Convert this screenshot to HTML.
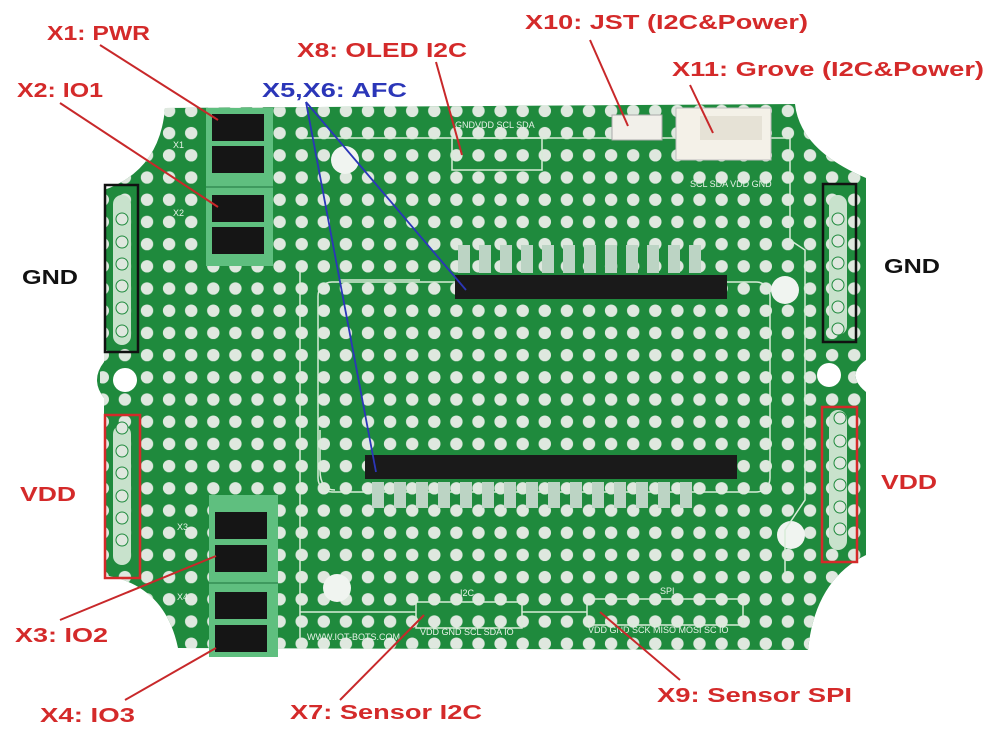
<!DOCTYPE html>
<html><head><meta charset="utf-8"><style>
html,body{margin:0;padding:0;background:#fff;}
svg{display:block;}
.lb{font-family:"Liberation Sans",sans-serif;font-weight:bold;font-size:20px;fill:#d42a2a;}
.bl{fill:#2b36b8;}
.bk{fill:#111;}
.sk{font-family:"Liberation Sans",sans-serif;font-size:9px;fill:#e8f2e8;}
</style></head><body>
<svg width="1000" height="750" viewBox="0 0 1000 750" xmlns="http://www.w3.org/2000/svg">
<defs>
<pattern id="dots" x="136" y="122" width="22.1" height="22.2" patternUnits="userSpaceOnUse">
<circle cx="11" cy="11.1" r="6.2" fill="#dfe8df"/>
</pattern>
<clipPath id="bc"><path id="bp" d="M165,108 L795,104 Q800,150 866,178 L866,360 Q845,375 866,392 L866,555 Q815,580 808,650 L178,648 Q165,585 104,575 L104,398 Q90,380 104,362 L104,190 Q160,170 165,108 Z"/></clipPath>
</defs>
<rect width="1000" height="750" fill="#fff"/>
<path d="M165,108 L795,104 Q800,150 866,178 L866,360 Q845,375 866,392 L866,555 Q815,580 808,650 L178,648 Q165,585 104,575 L104,398 Q90,380 104,362 L104,190 Q160,170 165,108 Z" fill="#1f8a3d"/>
<g clip-path="url(#bc)">
<rect x="100" y="100" width="780" height="560" fill="url(#dots)"/>
</g>
<!-- mounting holes -->
<circle cx="125" cy="380" r="12" fill="#fff"/>
<circle cx="829" cy="375" r="12" fill="#fff"/>
<circle cx="345" cy="160" r="14" fill="#f0f4f0"/>
<circle cx="785" cy="290" r="14" fill="#f0f4f0"/>
<circle cx="337" cy="588" r="14" fill="#f0f4f0"/>
<circle cx="791" cy="535" r="14" fill="#f0f4f0"/>
<!-- silkscreen lines -->
<g fill="none" stroke="#d8ecd8" stroke-width="1.5">
<rect x="318" y="282" width="452" height="210" rx="14"/>
<line x1="300" y1="265" x2="300" y2="640"/>
<line x1="300" y1="138" x2="790" y2="138"/>
<line x1="790" y1="130" x2="790" y2="240"/>
<path d="M790,240 L805,250 L805,500 L785,530 L785,575"/>
<rect x="452" y="138" width="90" height="32"/>
<rect x="416" y="602" width="106" height="26"/>
<rect x="587" y="599" width="156" height="26"/>
<line x1="300" y1="612" x2="416" y2="612"/>
<line x1="522" y1="612" x2="587" y2="612"/>
<path d="M320,430 L320,470 Q320,490 335,490"/>
<line x1="340" y1="280" x2="420" y2="280"/>
</g>
<!-- pad columns left/right -->
<rect x="113" y="195" width="18" height="150" rx="9" fill="#c8e2cc"/>
<rect x="829" y="195" width="18" height="140" rx="9" fill="#c8e2cc"/>
<rect x="113" y="425" width="18" height="140" rx="9" fill="#c8e2cc"/>
<rect x="829" y="410" width="18" height="140" rx="9" fill="#c8e2cc"/>
<g fill="#dfe8df" stroke="#1f8a3d" stroke-width="1">
<circle cx="122" cy="219" r="6"/><circle cx="122" cy="242" r="6"/><circle cx="122" cy="264" r="6"/><circle cx="122" cy="286" r="6"/><circle cx="122" cy="308" r="6"/><circle cx="122" cy="331" r="6"/>
<circle cx="838" cy="219" r="6"/><circle cx="838" cy="241" r="6"/><circle cx="838" cy="263" r="6"/><circle cx="838" cy="285" r="6"/><circle cx="838" cy="307" r="6"/><circle cx="838" cy="329" r="6"/>
<circle cx="122" cy="428" r="6"/><circle cx="122" cy="451" r="6"/><circle cx="122" cy="473" r="6"/><circle cx="122" cy="496" r="6"/><circle cx="122" cy="518" r="6"/><circle cx="122" cy="540" r="6"/>
<circle cx="840" cy="418" r="6"/><circle cx="840" cy="441" r="6"/><circle cx="840" cy="463" r="6"/><circle cx="840" cy="485" r="6"/><circle cx="840" cy="507" r="6"/><circle cx="840" cy="529" r="6"/>
</g>
<!-- boxes -->
<rect x="105" y="185" width="33" height="167" fill="none" stroke="#111" stroke-width="2.5"/>
<rect x="823" y="184" width="33" height="158" fill="none" stroke="#111" stroke-width="2.5"/>
<rect x="105" y="415" width="35" height="163" fill="none" stroke="#d42a2a" stroke-width="2.5"/>
<rect x="822" y="407" width="35" height="155" fill="none" stroke="#d42a2a" stroke-width="2.5"/>
<!-- terminal blocks -->
<g>
<rect x="206" y="108" width="67" height="158" fill="#5fbf7f"/>
<rect x="212" y="114" width="52" height="27" fill="#151515"/><rect x="212" y="146" width="52" height="27" fill="#151515"/>
<rect x="212" y="195" width="52" height="27" fill="#151515"/><rect x="212" y="227" width="52" height="27" fill="#151515"/>
<line x1="206" y1="187" x2="273" y2="187" stroke="#3e9a5e" stroke-width="2"/>
<rect x="209" y="495" width="69" height="162" fill="#5fbf7f"/>
<rect x="215" y="512" width="52" height="27" fill="#151515"/><rect x="215" y="545" width="52" height="27" fill="#151515"/>
<rect x="215" y="592" width="52" height="27" fill="#151515"/><rect x="215" y="625" width="52" height="27" fill="#151515"/>
<line x1="209" y1="583" x2="278" y2="583" stroke="#3e9a5e" stroke-width="2"/>
</g>
<!-- headers -->
<rect x="455" y="275" width="272" height="24" fill="#1a1a1a"/>
<rect x="365" y="455" width="372" height="24" fill="#1a1a1a"/>
<g fill="#bcd4c4">
<rect x="458" y="245" width="12" height="28"/><rect x="479" y="245" width="12" height="28"/><rect x="500" y="245" width="12" height="28"/><rect x="521" y="245" width="12" height="28"/><rect x="542" y="245" width="12" height="28"/><rect x="563" y="245" width="12" height="28"/><rect x="584" y="245" width="12" height="28"/><rect x="605" y="245" width="12" height="28"/><rect x="626" y="245" width="12" height="28"/><rect x="647" y="245" width="12" height="28"/><rect x="668" y="245" width="12" height="28"/><rect x="689" y="245" width="12" height="28"/>
<rect x="372" y="482" width="12" height="26"/><rect x="394" y="482" width="12" height="26"/><rect x="416" y="482" width="12" height="26"/><rect x="438" y="482" width="12" height="26"/><rect x="460" y="482" width="12" height="26"/><rect x="482" y="482" width="12" height="26"/><rect x="504" y="482" width="12" height="26"/><rect x="526" y="482" width="12" height="26"/><rect x="548" y="482" width="12" height="26"/><rect x="570" y="482" width="12" height="26"/><rect x="592" y="482" width="12" height="26"/><rect x="614" y="482" width="12" height="26"/><rect x="636" y="482" width="12" height="26"/><rect x="658" y="482" width="12" height="26"/><rect x="680" y="482" width="12" height="26"/>
</g>
<!-- connectors -->
<rect x="612" y="115" width="50" height="25" fill="#f2f0ea" stroke="#aaa"/>
<rect x="676" y="108" width="95" height="52" fill="#f4f1e8" stroke="#bbb"/>
<rect x="700" y="116" width="62" height="24" fill="#e6e2d6"/>
<!-- silkscreen text -->
<text class="sk" x="455" y="128">GNDVDD SCL SDA</text>
<text class="sk" x="690" y="187">SCL SDA VDD GND</text>
<text class="sk" x="420" y="635">VDD GND SCL SDA IO</text>
<text class="sk" x="588" y="633">VDD GND SCK MISO MOSI SC IO</text>
<text class="sk" x="307" y="640">WWW.IOT-BOTS.COM</text>
<text class="sk" x="460" y="596">I2C</text><text class="sk" x="660" y="594">SPI</text>
<text class="sk" x="173" y="148">X1</text><text class="sk" x="173" y="216">X2</text>
<text class="sk" x="177" y="530">X3</text><text class="sk" x="177" y="600">X4</text>
<!-- leader lines -->
<g stroke="#c8282a" stroke-width="2" fill="none">
<line x1="100" y1="45" x2="218" y2="120"/>
<line x1="60" y1="103" x2="218" y2="207"/>
<line x1="60" y1="620" x2="216" y2="556"/>
<line x1="125" y1="700" x2="216" y2="648"/>
<line x1="340" y1="700" x2="424" y2="615"/>
<line x1="680" y1="680" x2="600" y2="612"/>
<line x1="436" y1="62" x2="462" y2="155"/>
<line x1="590" y1="40" x2="628" y2="126"/>
<line x1="690" y1="85" x2="713" y2="133"/>
</g>
<g stroke="#2b36b8" stroke-width="1.8" fill="none">
<line x1="306" y1="102" x2="376" y2="472"/>
<line x1="306" y1="102" x2="466" y2="290"/>
</g>
<!-- labels -->
<text class="lb" x="47" y="40" textLength="103" lengthAdjust="spacingAndGlyphs">X1: PWR</text>
<text class="lb" x="17" y="97" textLength="86" lengthAdjust="spacingAndGlyphs">X2: IO1</text>
<text class="lb" x="297" y="57" textLength="170" lengthAdjust="spacingAndGlyphs">X8: OLED I2C</text>
<text class="lb bl" x="262" y="97" textLength="145" lengthAdjust="spacingAndGlyphs">X5,X6: AFC</text>
<text class="lb" x="525" y="29" textLength="283" lengthAdjust="spacingAndGlyphs">X10: JST (I2C&amp;Power)</text>
<text class="lb" x="672" y="76" textLength="312" lengthAdjust="spacingAndGlyphs">X11: Grove (I2C&amp;Power)</text>
<text class="lb bk" x="22" y="284" textLength="56" lengthAdjust="spacingAndGlyphs">GND</text>
<text class="lb bk" x="884" y="273" textLength="56" lengthAdjust="spacingAndGlyphs">GND</text>
<text class="lb" x="20" y="501" textLength="56" lengthAdjust="spacingAndGlyphs">VDD</text>
<text class="lb" x="881" y="489" textLength="56" lengthAdjust="spacingAndGlyphs">VDD</text>
<text class="lb" x="15" y="642" textLength="93" lengthAdjust="spacingAndGlyphs">X3: IO2</text>
<text class="lb" x="40" y="722" textLength="95" lengthAdjust="spacingAndGlyphs">X4: IO3</text>
<text class="lb" x="290" y="719" textLength="192" lengthAdjust="spacingAndGlyphs">X7: Sensor I2C</text>
<text class="lb" x="657" y="702" textLength="195" lengthAdjust="spacingAndGlyphs">X9: Sensor SPI</text>
</svg>
</body></html>
